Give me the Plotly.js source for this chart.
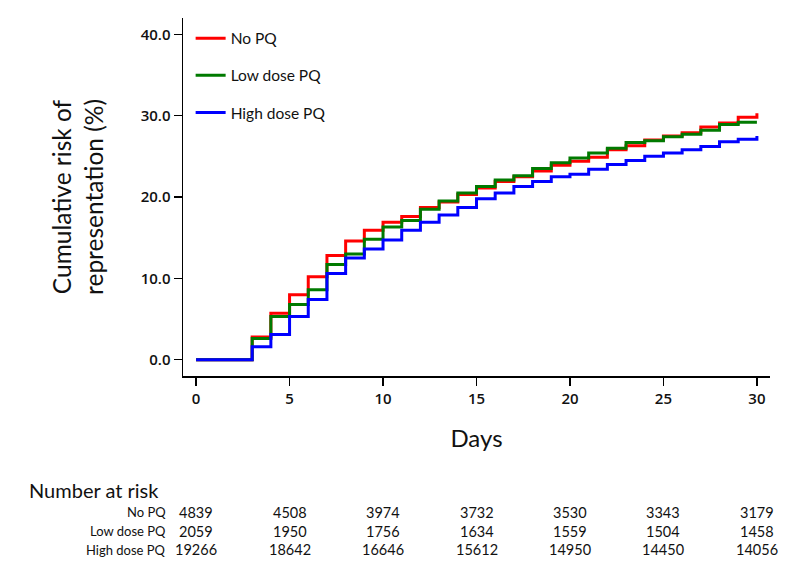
<!DOCTYPE html>
<html>
<head>
<meta charset="utf-8">
<script src="https://cdn.plot.ly/plotly-3.0.1.min.js"></script>
<style>html,body{margin:0;padding:0;background:#fff;}#chart{width:800px;height:581px;}</style>
</head>
<body>
<div id="chart"></div>
<script>
// ---- data ----
const days = [0, 3, 4, 5, 6, 7, 8, 9, 10, 11, 12, 13, 14, 15, 16, 17, 18, 19, 20, 21, 22, 23, 24, 25, 26, 27, 28, 29, 30];
const noPQ = [0, 2.8, 5.7, 8.0, 10.2, 12.8, 14.6, 15.9, 16.9, 17.6, 18.7, 19.4, 20.3, 21.1, 21.9, 22.5, 23.2, 23.9, 24.4, 24.9, 25.8, 26.3, 27.0, 27.5, 27.9, 28.6, 29.1, 29.8, 30.3];
const lowDosePQ = [0, 2.6, 5.3, 6.8, 8.6, 11.7, 13.0, 14.8, 16.3, 17.1, 18.5, 19.5, 20.5, 21.3, 22.1, 22.6, 23.5, 24.2, 24.8, 25.4, 26.0, 26.7, 26.9, 27.4, 27.7, 28.2, 28.9, 29.2, 29.2];
const highDosePQ = [0, 1.6, 3.1, 5.3, 7.4, 10.6, 12.5, 13.6, 14.7, 15.9, 16.9, 17.8, 18.7, 19.8, 20.5, 21.3, 21.9, 22.5, 22.8, 23.4, 24.0, 24.5, 25.0, 25.4, 25.8, 26.2, 26.8, 27.1, 27.5];

const seriesNames = ["No PQ", "Low dose PQ", "High dose PQ"];
const seriesColors = ["#ff0000", "#007a00", "#0000ff"];

const riskDays = [0, 5, 10, 15, 20, 25, 30];
const riskNoPQ = [4839, 4508, 3974, 3732, 3530, 3343, 3179];
const riskLowDose = [2059, 1950, 1756, 1634, 1559, 1504, 1458];
const riskHighDose = [19266, 18642, 16646, 15612, 14950, 14450, 14056];
const riskTitle = "Number at risk";

const yTicks = [0, 10, 20, 30, 40];
const xTicks = [0, 5, 10, 15, 20, 25, 30];

// ---- build ----
const seriesValues = [noPQ, lowDosePQ, highDosePQ];
const traces = seriesValues.map((vals, i) => ({
  x: days, y: vals, type: "scatter", mode: "lines",
  line: {shape: "hv", color: seriesColors[i], width: 3},
  name: seriesNames[i], legendgroup: "g" + i
}));

const textFont = "Lato, 'Open Sans', sans-serif";
const textColor = "#111";
const annotations = [];
annotations.push({xref: "paper", yref: "paper", x: -0.264, y: -0.318, xanchor: "left", yanchor: "middle",
  text: riskTitle, showarrow: false, borderpad: 0, font: {family: textFont, size: 20, color: textColor}});
const riskRows = [riskNoPQ, riskLowDose, riskHighDose];
const rowY = [-0.380, -0.433, -0.486];
riskRows.forEach((row, r) => {
  annotations.push({xref: "paper", yref: "paper", x: -0.027, y: rowY[r], xanchor: "right", yanchor: "middle",
    text: seriesNames[r], showarrow: false, borderpad: 0, font: {family: textFont, size: 13, color: textColor}});
  row.forEach((v, j) => {
    annotations.push({xref: "x", yref: "paper", x: riskDays[j], y: rowY[r], xanchor: "center", yanchor: "middle",
      text: String(v), showarrow: false, borderpad: 0, font: {family: textFont, size: 14.5, color: textColor}});
  });
});

const layout = {
  width: 800, height: 581,
  margin: {l: 183, r: 30, t: 18, b: 205},
  paper_bgcolor: "#fff", plot_bgcolor: "#fff",
  showlegend: true,
  legend: {x: 0.013, y: 0.99, xanchor: "left", yanchor: "top", traceorder: "grouped", tracegroupgap: 14,
    bgcolor: "rgba(0,0,0,0)", borderwidth: 0,
    font: {family: textFont, size: 15.5, color: textColor}},
  xaxis: {
    range: [-0.7, 30.7], tickvals: xTicks, ticktext: xTicks.map(String),
    showgrid: false, zeroline: false, showline: true, linecolor: "#000", linewidth: 1.5,
    ticks: "outside", ticklen: 8, tickwidth: 1.5, tickcolor: "#000",
    tickfont: {family: "'Open Sans', sans-serif", size: 15, weight: 600, color: textColor},
    title: {text: "Days", standoff: 23, font: {family: textFont, size: 24, color: textColor}}
  },
  yaxis: {
    range: [-2, 42], tickvals: yTicks, ticktext: yTicks.map(v => v.toFixed(1)),
    showgrid: false, zeroline: false, showline: true, linecolor: "#000", linewidth: 1.5,
    ticks: "outside", ticklen: 8, tickwidth: 1.5, tickcolor: "#000",
    tickfont: {family: "'Open Sans', sans-serif", size: 15, weight: 600, color: textColor},
    title: {text: "Cumulative risk of<br>representation (%)", standoff: 30, font: {family: textFont, size: 24.5, color: textColor}}
  },
  annotations: annotations
};

Plotly.newPlot("chart", traces, layout, {displayModeBar: false, staticPlot: true});
</script>
</body>
</html>
